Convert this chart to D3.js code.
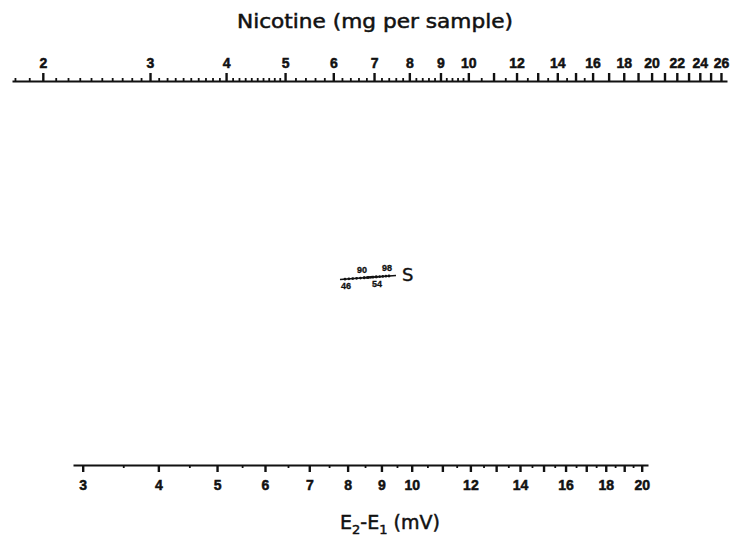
<!DOCTYPE html>
<html><head><meta charset="utf-8">
<script src="https://cdn.jsdelivr.net/npm/d3@7"></script>
<style>body{margin:0;background:#fff} svg{display:block}</style>
</head><body>
<script>
// ---- data ----
const nicotineMajor = [2,3,4,5,6,7,8,9,10,11,12,13,14,15,16,17,18,19,20,21,22,23,24,25,26];
const nicotineLabels = [2,3,4,5,6,7,8,9,10,12,14,16,18,20,22,24,26];
const voltageMajor = [3,4,5,6,7,8,9,10,11,12,13,14,15,16,17,18,19,20];
const voltageLabels = [3,4,5,6,7,8,9,10,12,14,16,18,20];
const sLowerValues = [46,47,48,49,50,51,52,53,54];
const sLowerLabels = [46,54];
const sUpperValues = [90,91,92,93,94,95,96,97,98];
const sUpperLabels = [90,98];

// ---- layout ----
const W = 732, H = 537;
const svg = d3.select("body").append("svg").attr("width", W).attr("height", H);
const tickFont = "'Liberation Sans', Arial, sans-serif";

// top: logarithmic nicotine scale
const xTop = d3.scaleLog().domain([1.78, 26.6]).range([12, 727]);
// bottom: calibrated (piecewise logarithmic) E2-E1 scale
const xBot = d3.scaleLog()
  .domain([2.89, 3, 6, 10, 14, 20, 20.3])
  .range([73, 82.7, 265, 411.7, 520, 641.7, 648]);

const r1 = v => Math.round(v * 100) / 100;
const nicMinor = [].concat(
  d3.range(18, 50, 1).map(v => v / 10),
  d3.range(50, 100, 2).map(v => v / 10),
  d3.range(100, 160, 5).map(v => v / 10)
).map(r1).filter(v => !Number.isInteger(v) || v < 2);
const voltMinor = d3.range(35, 200, 10).map(v => v / 10);

function styleAxis(g) {
  g.select(".domain").attr("stroke", "#111").attr("stroke-width", 2.2);
  g.selectAll(".tick line").attr("stroke", "#111").attr("stroke-width", 2.4);
  g.selectAll(".tick text").attr("fill", "#111").attr("stroke", "#111").attr("stroke-width", 0.5)
    .style("font-family", tickFont).style("font-weight", "bold").style("font-size", "14px");
}

// top axis
const gTop = svg.append("g").attr("transform", "translate(0,81)");
gTop.call(d3.axisTop(xTop).tickValues(nicMinor).tickSize(3).tickSizeOuter(0).tickFormat(""));
gTop.select(".domain").remove();
gTop.selectAll(".tick line").attr("stroke", "#111").attr("stroke-width", 1.8);
const gTopMaj = svg.append("g").attr("transform", "translate(0,81)");
gTopMaj.call(d3.axisTop(xTop).tickValues(nicotineMajor).tickSize(8).tickSizeOuter(0).tickPadding(5)
  .tickFormat(d => nicotineLabels.includes(d) ? d : ""));
styleAxis(gTopMaj);

// bottom axis
const gBot = svg.append("g").attr("transform", "translate(0,465)");
gBot.call(d3.axisBottom(xBot).tickValues(voltMinor).tickSize(3).tickSizeOuter(0).tickFormat(""));
gBot.select(".domain").remove();
gBot.selectAll(".tick line").attr("stroke", "#111").attr("stroke-width", 1.8);
const gBotMaj = svg.append("g").attr("transform", "translate(0,465)");
gBotMaj.call(d3.axisBottom(xBot).tickValues(voltageMajor).tickSize(7).tickSizeOuter(0).tickPadding(8)
  .tickFormat(d => voltageLabels.includes(d) ? d : ""));
styleAxis(gBotMaj);

// titles
svg.append("text").attr("x", 375).attr("y", 28).attr("text-anchor", "middle")
  .attr("textLength", 276).attr("lengthAdjust", "spacingAndGlyphs")
  .style("font-family", "'DejaVu Sans', sans-serif").style("font-size", "19px")
  .attr("fill", "#111").attr("stroke", "#111").attr("stroke-width", 0.5)
  .text("Nicotine (mg per sample)");

const bt = svg.append("text").attr("x", 340).attr("y", 529)
  .style("font-family", "'DejaVu Sans', sans-serif").style("font-size", "19px")
  .attr("fill", "#111").attr("stroke", "#111").attr("stroke-width", 0.5);
bt.append("tspan").text("E");
bt.append("tspan").attr("dy", 5).style("font-size", "13px").text("2");
bt.append("tspan").attr("dy", -5).text("-E");
bt.append("tspan").attr("dy", 5).style("font-size", "13px").text("1");
bt.append("tspan").attr("dy", -5).text(" (mV)");

// S pivot marker
const sLow = d3.scaleLinear().domain([46, 54]).range([345, 376]);
const sUp = d3.scaleLinear().domain([90, 98]).range([364, 389]);
const sY = d3.scaleLinear().domain([340, 396]).range([279.5, 275.5]);
const gS = svg.append("g");
gS.append("line").attr("x1", 340).attr("x2", 396).attr("y1", sY(340)).attr("y2", sY(396))
  .attr("stroke", "#111").attr("stroke-width", 1.5);
gS.selectAll("circle.lo").data(sLowerValues).join("circle").attr("class", "lo")
  .attr("cx", d => sLow(d)).attr("cy", d => sY(sLow(d))).attr("r", 1.4).attr("fill", "#111");
gS.selectAll("circle.up").data(sUpperValues).join("circle").attr("class", "up")
  .attr("cx", d => sUp(d)).attr("cy", d => sY(sUp(d))).attr("r", 1.4).attr("fill", "#111");
gS.selectAll("text.lo").data(sLowerLabels).join("text").attr("class", "lo")
  .attr("x", d => sLow(d) + 1).attr("y", d => sY(sLow(d)) + 10).attr("text-anchor", "middle")
  .style("font-family", tickFont).style("font-weight", "bold").style("font-size", "9px")
  .attr("fill", "#111").attr("stroke", "#111").attr("stroke-width", 0.3)
  .text(d => d);
gS.selectAll("text.up").data(sUpperLabels).join("text").attr("class", "up")
  .attr("x", d => sUp(d) - 2).attr("y", d => sY(sUp(d)) - 5).attr("text-anchor", "middle")
  .style("font-family", tickFont).style("font-weight", "bold").style("font-size", "9px")
  .attr("fill", "#111").attr("stroke", "#111").attr("stroke-width", 0.3)
  .text(d => d);
gS.append("text").attr("x", 402).attr("y", 280.5)
  .style("font-family", "'DejaVu Sans', sans-serif").style("font-size", "18px")
  .attr("fill", "#111").attr("stroke", "#111").attr("stroke-width", 0.4)
  .text("S");
</script>
</body></html>
